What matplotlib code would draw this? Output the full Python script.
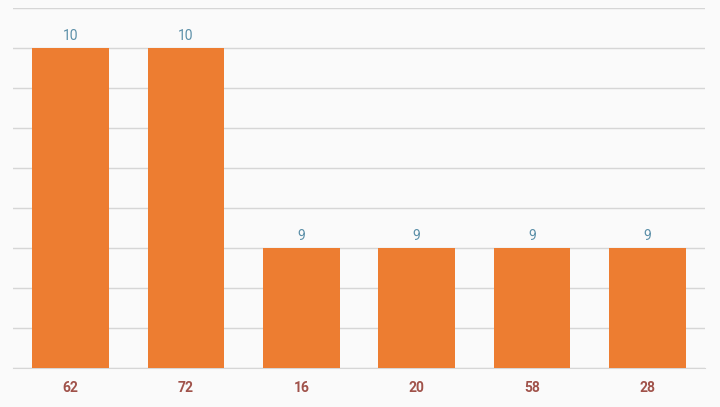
import matplotlib
matplotlib.use("Agg")
import matplotlib.pyplot as plt
import numpy as np

categories = ["62", "72", "16", "20", "58", "28"]
values = [10, 10, 9, 9, 9, 9]

plt.rcParams['font.family'] = ['Roboto', 'DejaVu Sans']

W, H = 720, 407
fig = plt.figure(figsize=(W/100, H/100), dpi=100, facecolor='#fafafa')
ax = fig.add_axes([13/W, (H-368)/H, (705-13)/W, (368-8)/H])
ax.set_facecolor('#fafafa')

x = np.arange(len(categories))
ax.bar(x, values, width=0.667, color='#ED7D31', zorder=3)
ax.set_xlim(-0.5, len(categories)-0.5)
ax.set_ylim(8.4, 10.2)
ax.set_yticks(np.arange(8.4, 10.21, 0.2))
ax.yaxis.grid(True, color='#d6d6d6', linewidth=1, zorder=0)
ax.tick_params(axis='y', length=0, labelleft=False)
ax.tick_params(axis='x', length=0, pad=9)
ax.set_xticks(x)
ax.set_xticklabels(categories, fontsize=10, fontweight='bold', color='#a0524a')
for s in ['top', 'right', 'left']:
    ax.spines[s].set_visible(False)
ax.spines['bottom'].set_color('#d6d6d6')

for xi, v in zip(x, values):
    ax.annotate(str(v), (xi, v), xytext=(0, 3.5), textcoords='offset points',
                ha='center', va='bottom', fontsize=10, color='#5b8fa8')

fig.savefig('out.png', dpi=100, facecolor='#fafafa')
